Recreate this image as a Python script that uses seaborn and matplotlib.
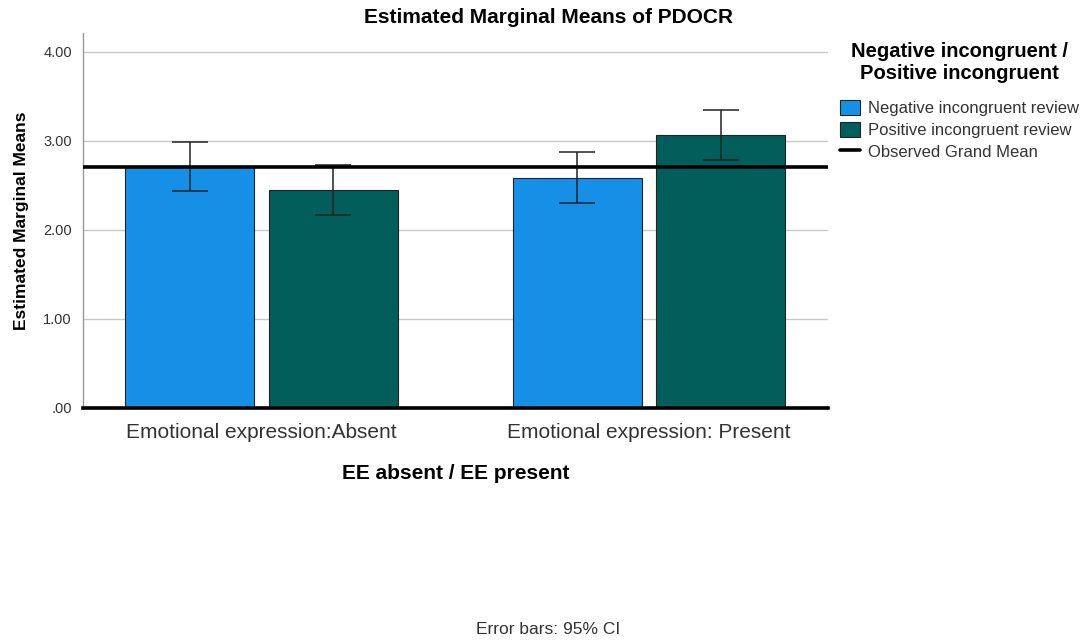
import numpy as np
import pandas as pd
import matplotlib
matplotlib.use('Agg')
import matplotlib.pyplot as plt
from matplotlib.patches import Patch
from matplotlib.lines import Line2D
import seaborn as sns

# values
ee_levels = ['Emotional expression:Absent', 'Emotional expression: Present']
review_types = ['Negative incongruent review', 'Positive incongruent review']
means = [2.70, 2.45, 2.58, 3.06]        # order: Absent-Neg, Absent-Pos, Present-Neg, Present-Pos
ci_low = [2.44, 2.17, 2.30, 2.78]
ci_high = [2.99, 2.73, 2.87, 3.34]
grand_mean = 2.70

df = pd.DataFrame({
    'EE': [ee_levels[0], ee_levels[0], ee_levels[1], ee_levels[1]],
    'Review': [review_types[0], review_types[1], review_types[0], review_types[1]],
    'Mean': means,
    'Low': ci_low,
    'High': ci_high,
})

sns.set_style('white')
plt.rcParams['font.family'] = ['Liberation Sans', 'DejaVu Sans']

colors = ['#1590E6', '#025E5A']

fig = plt.figure(figsize=(10.86, 6.42), dpi=100)
ax = fig.add_axes([0.0764, 0.3645, 0.6856, 0.5841])

sns.barplot(data=df, x='EE', y='Mean', hue='Review', hue_order=review_types,
            order=ee_levels, palette=colors, saturation=1, width=0.74, gap=0.1,
            errorbar=None, edgecolor='#222222', linewidth=0.8,
            legend=False, ax=ax)

# error bars at bar centres (patches come hue by hue, then category)
i = 0
for rv in review_types:
    for ee in ee_levels:
        row = df[(df['Review'] == rv) & (df['EE'] == ee)].iloc[0]
        bar = ax.patches[i]
        i += 1
        xc = bar.get_x() + bar.get_width() / 2
        ax.errorbar(xc, row['Mean'],
                    yerr=[[row['Mean'] - row['Low']], [row['High'] - row['Mean']]],
                    fmt='none', ecolor='#222222', elinewidth=1.1, capsize=13,
                    capthick=1.1, zorder=4)

ax.axhline(grand_mean, color='black', lw=2.6, zorder=5)

ax.set_xlim(-0.46, 1.46)
ax.set_ylim(0, 4.21)
ax.set_yticks([0, 1, 2, 3, 4])
ax.set_yticklabels(['.00', '1.00', '2.00', '3.00', '4.00'], fontsize=10.5, color='#333333')
ax.tick_params(axis='x', labelsize=15, colors='#333333', length=0, pad=11)
ax.tick_params(axis='y', length=0, pad=8)
ax.yaxis.grid(True, color='#C8C8C8', lw=1)
ax.set_axisbelow(True)
for s in ['top', 'right']:
    ax.spines[s].set_visible(False)
ax.spines['left'].set_color('#999999')
ax.spines['left'].set_linewidth(1)
ax.spines['bottom'].set_color('black')
ax.spines['bottom'].set_linewidth(2.6)
ax.spines['bottom'].set_zorder(6)

fig.suptitle('Estimated Marginal Means of PDOCR', x=0.505, y=0.972, va='center',
             fontsize=15, fontweight='bold', color='black')
ax.set_ylabel('Estimated Marginal Means', fontsize=12.5, fontweight='bold',
              labelpad=10, color='black')
ax.set_xlabel('EE absent / EE present', fontsize=15, fontweight='bold',
              labelpad=16, color='black')

handles = [Patch(facecolor=colors[0], edgecolor='#222222', lw=0.8),
           Patch(facecolor=colors[1], edgecolor='#222222', lw=0.8),
           Line2D([0], [0], color='black', lw=2.6)]
leg = fig.legend(handles, review_types + ['Observed Grand Mean'],
                 title='Negative incongruent /\nPositive incongruent',
                 loc='upper left', bbox_to_anchor=(0.767, 0.945), frameon=False,
                 fontsize=12, title_fontsize=14.5, handlelength=1.2, handleheight=1.0,
                 handletextpad=0.5, labelspacing=0.35, borderaxespad=0)
leg.get_title().set_fontweight('bold')
leg.get_title().set_multialignment('center')
leg.get_title().set_color('black')
leg._legend_box.sep = 12
for t in leg.get_texts():
    t.set_color('#333333')

fig.text(0.505, 0.012, 'Error bars: 95% CI', ha='center', fontsize=12.5, color='#333333')

fig.savefig('out.png', dpi=100)
